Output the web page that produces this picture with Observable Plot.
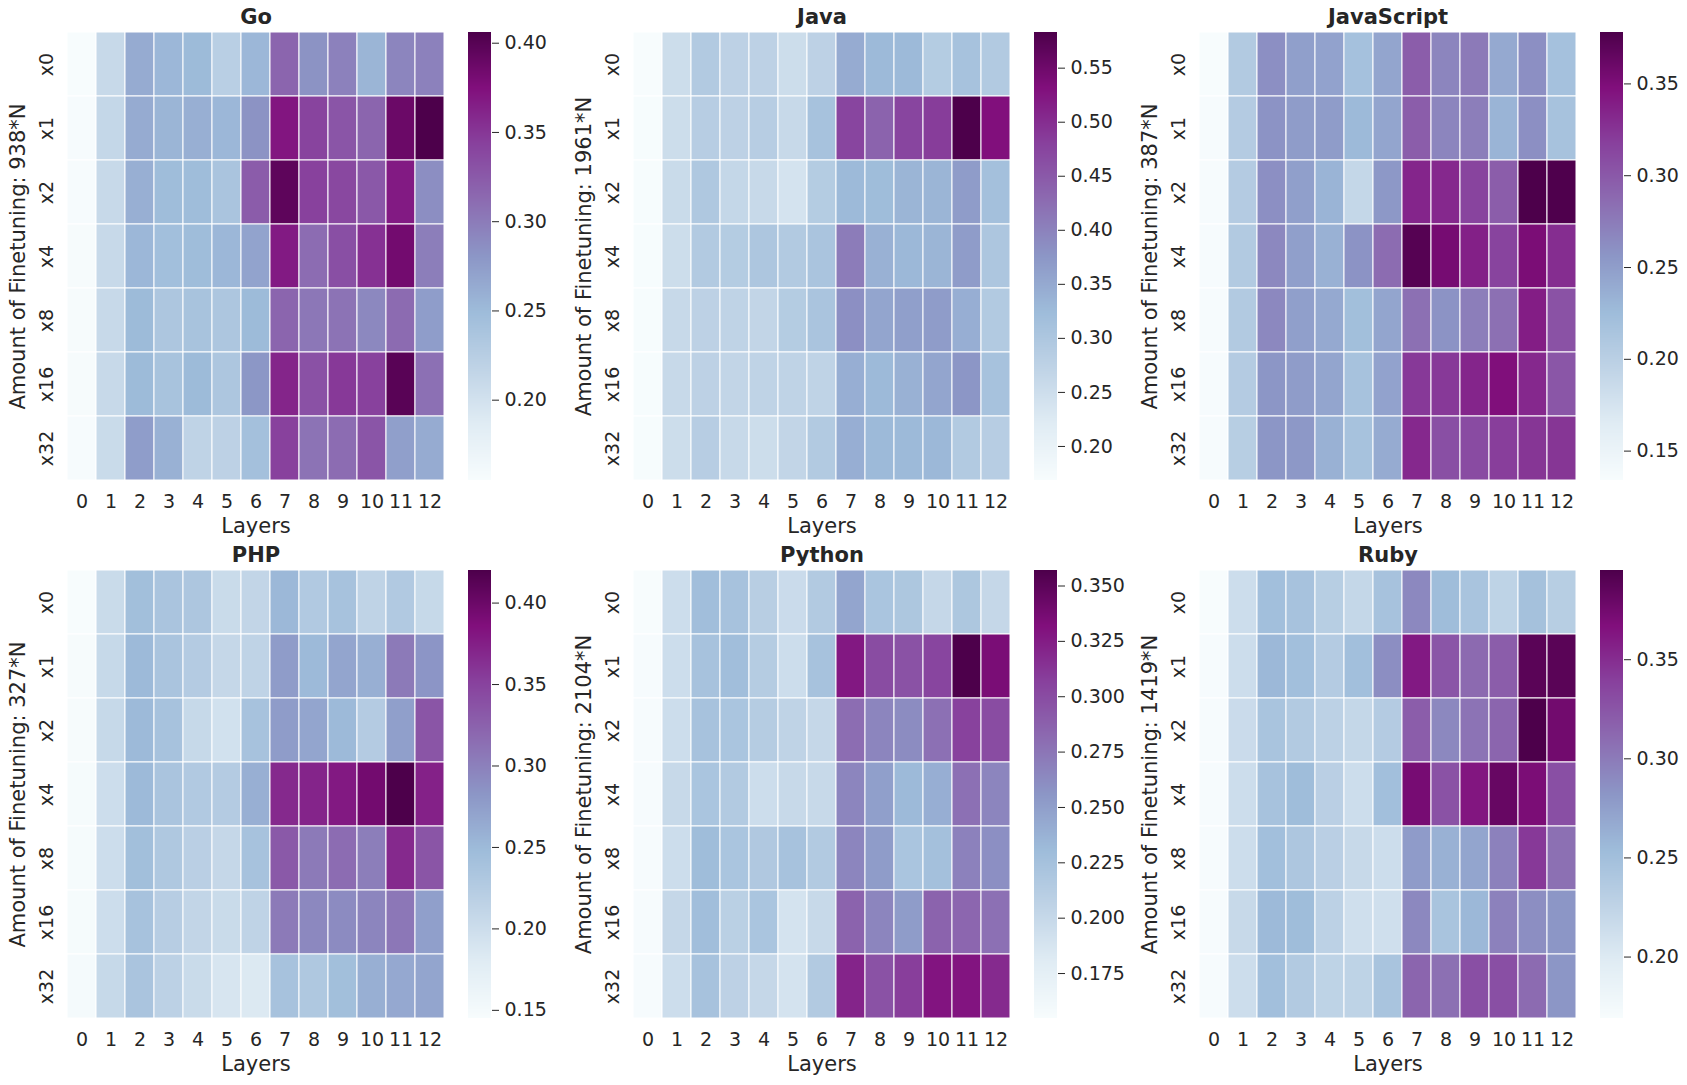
<!DOCTYPE html>
<html><head><meta charset="utf-8">
<script src="https://cdn.jsdelivr.net/npm/d3@7"></script>
<script src="https://cdn.jsdelivr.net/npm/@observablehq/plot@0.6"></script>
<style>
body{margin:0;background:#fff;}
#fig{position:relative;width:1687px;height:1085px;overflow:hidden;background:#fff;font-family:"DejaVu Sans",sans-serif;}
#fig > div{position:absolute;}
#fig svg{overflow:visible;max-width:none;}
</style></head><body><div id="fig"></div>
<script>
const layers = ["0","1","2","3","4","5","6","7","8","9","10","11","12"];
const amounts = ["x0","x1","x2","x4","x8","x16","x32"];
const languages = ["Go","Java","JavaScript","PHP","Python","Ruby"];
const sampleCounts = ["938","1961","387","327","2104","1419"];

const goValues = [
  [0.155,0.210,0.263,0.253,0.250,0.223,0.253,0.316,0.283,0.296,0.255,0.293,0.296],
  [0.156,0.213,0.263,0.255,0.260,0.253,0.283,0.371,0.341,0.328,0.316,0.388,0.406],
  [0.156,0.210,0.260,0.248,0.248,0.238,0.323,0.396,0.343,0.338,0.326,0.368,0.286],
  [0.157,0.210,0.253,0.245,0.248,0.253,0.270,0.368,0.311,0.333,0.353,0.383,0.298],
  [0.157,0.210,0.250,0.235,0.240,0.235,0.250,0.316,0.303,0.306,0.291,0.312,0.275],
  [0.157,0.210,0.250,0.240,0.250,0.235,0.280,0.361,0.331,0.348,0.343,0.399,0.308],
  [0.156,0.208,0.275,0.258,0.218,0.220,0.243,0.343,0.306,0.311,0.328,0.273,0.263]
];
const javaValues = [
  [0.169,0.252,0.293,0.276,0.276,0.252,0.276,0.347,0.326,0.326,0.289,0.310,0.293],
  [0.170,0.252,0.285,0.276,0.285,0.260,0.310,0.475,0.438,0.475,0.484,0.583,0.531],
  [0.170,0.256,0.297,0.264,0.260,0.239,0.289,0.326,0.322,0.334,0.334,0.368,0.314],
  [0.170,0.252,0.293,0.289,0.301,0.293,0.305,0.407,0.339,0.330,0.334,0.368,0.301],
  [0.170,0.260,0.276,0.272,0.268,0.289,0.305,0.384,0.355,0.363,0.368,0.343,0.293],
  [0.170,0.260,0.276,0.268,0.272,0.272,0.272,0.343,0.326,0.339,0.355,0.376,0.310],
  [0.170,0.252,0.285,0.260,0.252,0.268,0.293,0.343,0.326,0.326,0.330,0.293,0.285]
];
const javascriptValues = [
  [0.134,0.207,0.261,0.249,0.246,0.219,0.244,0.297,0.268,0.276,0.241,0.261,0.219],
  [0.135,0.205,0.258,0.251,0.251,0.227,0.244,0.297,0.268,0.273,0.232,0.261,0.217],
  [0.135,0.205,0.261,0.249,0.232,0.190,0.254,0.334,0.332,0.315,0.297,0.378,0.377],
  [0.135,0.207,0.266,0.249,0.234,0.258,0.286,0.373,0.354,0.337,0.315,0.351,0.329],
  [0.135,0.207,0.266,0.249,0.241,0.222,0.244,0.283,0.258,0.273,0.283,0.339,0.305],
  [0.135,0.205,0.256,0.251,0.244,0.217,0.246,0.322,0.322,0.334,0.348,0.332,0.302],
  [0.135,0.202,0.256,0.254,0.234,0.217,0.239,0.332,0.307,0.310,0.319,0.324,0.324]
];
const phpValues = [
  [0.145,0.203,0.244,0.236,0.233,0.203,0.211,0.252,0.228,0.239,0.214,0.228,0.206],
  [0.147,0.206,0.250,0.236,0.225,0.208,0.214,0.277,0.250,0.269,0.260,0.305,0.283],
  [0.147,0.206,0.250,0.239,0.206,0.195,0.239,0.277,0.269,0.250,0.225,0.274,0.335],
  [0.148,0.200,0.250,0.236,0.228,0.225,0.260,0.368,0.371,0.379,0.395,0.420,0.373],
  [0.148,0.200,0.244,0.230,0.219,0.208,0.239,0.332,0.305,0.316,0.302,0.368,0.335],
  [0.148,0.200,0.239,0.222,0.211,0.203,0.214,0.305,0.294,0.291,0.296,0.307,0.274],
  [0.149,0.206,0.236,0.217,0.203,0.189,0.184,0.239,0.230,0.244,0.260,0.266,0.269]
];
const pythonValues = [
  [0.155,0.195,0.228,0.224,0.211,0.197,0.215,0.246,0.221,0.219,0.201,0.219,0.201],
  [0.156,0.195,0.224,0.228,0.213,0.195,0.224,0.327,0.300,0.296,0.304,0.357,0.335],
  [0.156,0.195,0.224,0.221,0.213,0.205,0.201,0.280,0.266,0.262,0.278,0.306,0.300],
  [0.156,0.199,0.221,0.215,0.195,0.199,0.199,0.266,0.250,0.232,0.240,0.278,0.266],
  [0.156,0.195,0.230,0.221,0.217,0.224,0.215,0.266,0.252,0.221,0.226,0.268,0.260],
  [0.156,0.201,0.228,0.209,0.221,0.189,0.199,0.286,0.266,0.252,0.286,0.284,0.278],
  [0.156,0.195,0.224,0.207,0.201,0.189,0.215,0.321,0.296,0.308,0.329,0.329,0.318]
];
const rubyValues = [
  [0.169,0.214,0.250,0.246,0.232,0.221,0.246,0.291,0.253,0.244,0.226,0.248,0.232],
  [0.170,0.214,0.257,0.250,0.235,0.250,0.287,0.361,0.325,0.311,0.320,0.388,0.388],
  [0.170,0.216,0.244,0.237,0.228,0.221,0.235,0.320,0.291,0.305,0.314,0.395,0.375],
  [0.170,0.214,0.246,0.253,0.230,0.214,0.250,0.372,0.327,0.363,0.381,0.370,0.329],
  [0.170,0.214,0.250,0.241,0.230,0.219,0.214,0.278,0.262,0.271,0.296,0.343,0.307],
  [0.170,0.219,0.255,0.253,0.228,0.212,0.212,0.291,0.244,0.257,0.296,0.287,0.282],
  [0.170,0.214,0.250,0.237,0.226,0.226,0.244,0.314,0.307,0.329,0.329,0.310,0.282]
];

const colorMin = [0.155, 0.1685, 0.134, 0.145, 0.1547, 0.169];
const colorMax = [0.406, 0.583, 0.378, 0.420, 0.357, 0.395];
const colorTicks = [
  [0.20,0.25,0.30,0.35,0.40],
  [0.20,0.25,0.30,0.35,0.40,0.45,0.50,0.55],
  [0.15,0.20,0.25,0.30,0.35],
  [0.15,0.20,0.25,0.30,0.35,0.40],
  [0.175,0.200,0.225,0.250,0.275,0.300,0.325,0.350],
  [0.20,0.25,0.30,0.35]
];
const tickFormats = [".2f",".2f",".2f",".2f",".3f",".2f"];
const bupu = ["#f7fcfd","#e0ecf4","#bfd3e6","#9ebcda","#8c96c6","#8c6bb1","#88419d","#810f7c","#4d004b"];

const allValues = [goValues, javaValues, javascriptValues, phpValues, pythonValues, rubyValues];

const colLeft = [67, 633, 1199];
const rowTop = [32, 570];
const cellW = 377, cellH = 448;
const ink = "#262626";
const tickSize = 19, labelSize = 21;
const fig = document.getElementById("fig");

languages.forEach((lang, i) => {
  const L = colLeft[i % 3], T = rowTop[Math.floor(i / 3)];
  const lo = colorMin[i], hi = colorMax[i];
  const stops = d3.range(9).map(k => lo + (hi - lo) * k / 8);
  const color = {type: "linear", domain: stops, range: bupu, interpolate: "rgb"};
  const cells = allValues[i].flatMap((r, ri) => r.map((v, ci) => ({layer: layers[ci], amount: amounts[ri], v})));
  const mL = 66, mR = 6, mT = 40, mB = 60;
  const heat = Plot.plot({
    width: mL + cellW + mR, height: mT + cellH + mB,
    marginLeft: mL, marginRight: mR, marginTop: mT, marginBottom: mB,
    style: {background: "transparent", fontFamily: "DejaVu Sans", color: ink, overflow: "visible", maxWidth: "none"},
    x: {type: "band", domain: layers, padding: 0, axis: null},
    y: {type: "band", domain: amounts, padding: 0, axis: null},
    color,
    marks: [
      Plot.cell(cells, {x: "layer", y: "amount", fill: "v", stroke: "white", strokeWidth: 1}),
      Plot.text(layers, {x: d => d, frameAnchor: "bottom", dy: 21, fontSize: tickSize, textAnchor: "middle", lineAnchor: "middle", fill: ink}),
      Plot.text(amounts, {y: d => d, frameAnchor: "left", dx: -21, rotate: -90, fontSize: tickSize, textAnchor: "middle", lineAnchor: "middle", fill: ink}),
      Plot.text(["Layers"], {frameAnchor: "bottom", dy: 46, fontSize: labelSize, textAnchor: "middle", lineAnchor: "middle", fill: ink}),
      Plot.text([`Amount of Finetuning: ${sampleCounts[i]}*N`], {frameAnchor: "left", dx: -49, rotate: -90, fontSize: labelSize, textAnchor: "middle", lineAnchor: "middle", fill: ink}),
      Plot.text([lang], {frameAnchor: "top", dy: -15, fontSize: labelSize, fontWeight: "bold", textAnchor: "middle", lineAnchor: "middle", fill: ink})
    ]
  });
  const hd = document.createElement("div");
  hd.style.left = (L - mL) + "px"; hd.style.top = (T - mT) + "px";
  hd.style.width = (mL + cellW + mR) + "px";
  hd.appendChild(heat); fig.appendChild(hd);

  const n = cellH, step = (hi - lo) / n;
  const slices = d3.range(n).map(k => lo + step * (k + 0.5));
  const bar = Plot.plot({
    width: 23 + 80, height: cellH,
    marginLeft: 0, marginRight: 80, marginTop: 0, marginBottom: 0,
    style: {background: "transparent", fontFamily: "DejaVu Sans", fontSize: tickSize + "px", color: ink, overflow: "visible", maxWidth: "none"},
    x: {domain: [0, 1], axis: null},
    y: {domain: [lo, hi]},
    color,
    marks: [
      Plot.rect(slices, {x1: () => 0, x2: () => 1, y1: d => d - step / 2, y2: d => d + step / 2, fill: d => d, shapeRendering: "crispEdges"}),
      Plot.axisY({anchor: "right", ticks: colorTicks[i], tickFormat: d3.format(tickFormats[i]), tickSize: 7, tickPadding: 6, fontSize: tickSize, label: null, stroke: ink, fill: ink})
    ]
  });
  const bd = document.createElement("div");
  bd.style.left = (L + 401) + "px"; bd.style.top = T + "px";
  bd.style.width = (23 + 80) + "px";
  bd.appendChild(bar); fig.appendChild(bd);
});
</script>
</body></html>
